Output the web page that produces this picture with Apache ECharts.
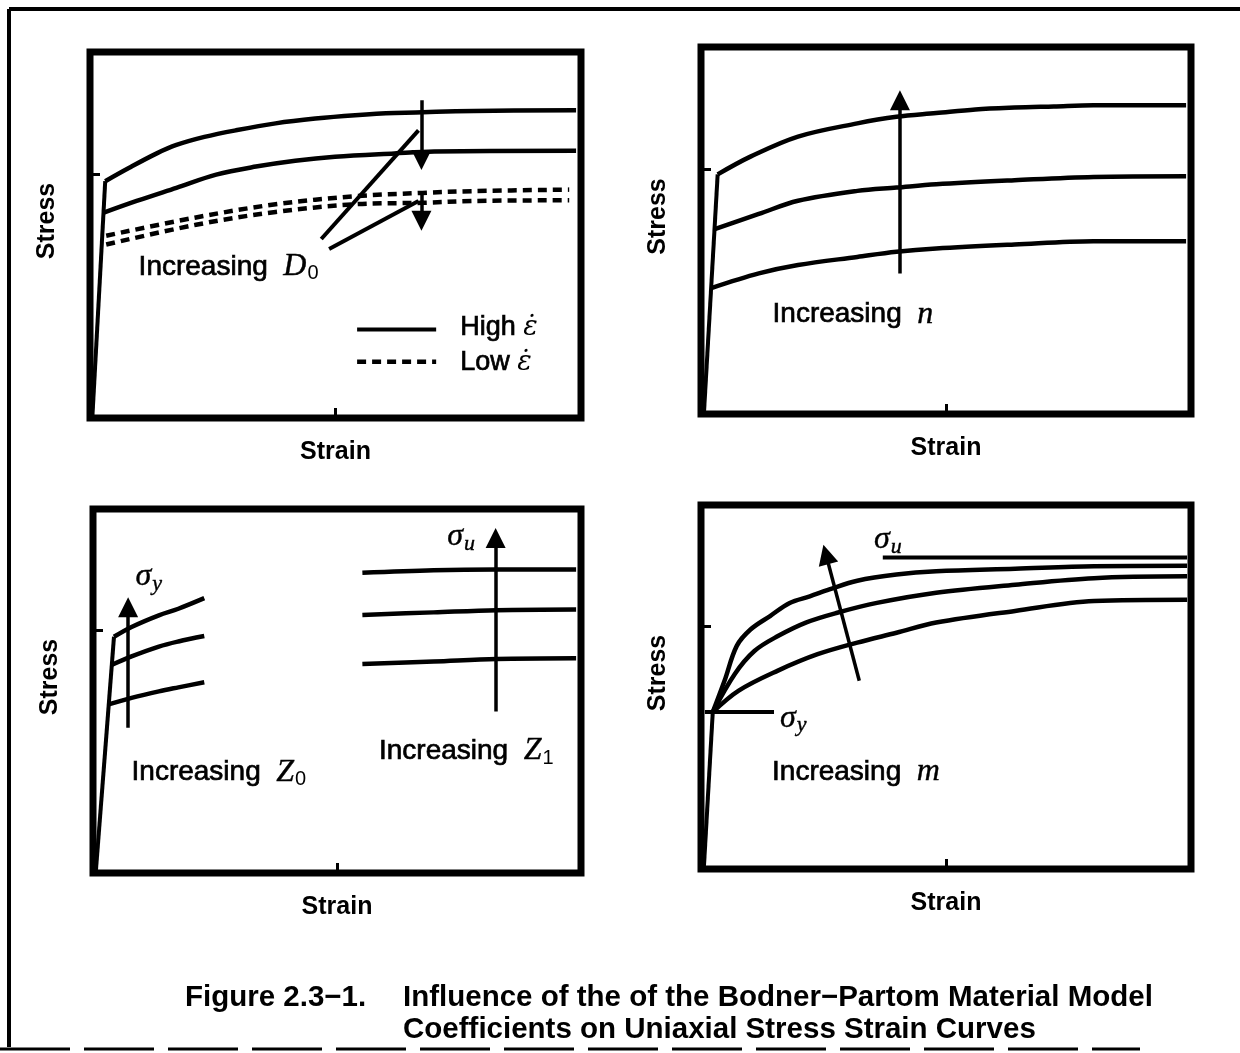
<!DOCTYPE html>
<html><head><meta charset="utf-8">
<script src="https://cdn.jsdelivr.net/npm/echarts@6/dist/echarts.min.js"></script>
<style>html,body{margin:0;padding:0;background:#fff}#c{width:1240px;height:1053px}</style>
</head><body><div id="c"></div>
<script>
// ---------- Panel 1: Increasing D0 (high / low strain rate) ----------
const p1Elastic   = [[0.5,0.7],[3.1,64.7]];
const p1HighUpper = [[3.1,64.7],[7.9,68.3],[13.6,72.3],[17.6,74.6],[23.3,76.8],[29.7,78.6],[37.8,80.5],[45.9,81.8],[54.0,82.7],[62.0,83.3],[78.2,83.9],[99,84.1]];
const p1HighLower = [[2.8,56.1],[9.5,59.3],[17.6,62.9],[25.7,66.5],[33.8,68.7],[41.8,70.3],[49.9,71.4],[62.0,72.3],[70.1,72.8],[99,73.0]];
const p1LowUpper  = [[3.3,49.8],[21.6,54.8],[37.8,58.4],[54.0,60.6],[67.7,61.5],[78.2,62.0],[97.6,62.4]];
const p1LowLower  = [[3.3,47.4],[21.6,52.8],[37.8,56.3],[54.0,58.4],[67.7,58.8],[78.2,59.3],[97.6,59.5]];
const p1ArrowHigh = [[67.5,86.8],[67.5,70.5]];
const p1ArrowLow  = [[67.5,61.5],[67.5,53.9]];
const p1Pointer1  = [[47.1,48.9],[66.9,78.6]];
const p1Pointer2  = [[48.7,46.2],[66.9,59.3]];
const p1KeySolid  = [[54.4,24.2],[70.5,24.2]];
const p1KeyDashed = [[54.4,15.4],[70.5,15.4]];
const p1Notes = [[9.9,41.3,'{t|Increasing  }{m|D}{s|0}'],[75.4,24.6,'{l|High }{e|ε̇}'],[75.4,15.1,'{l|Low }{e|ε̇}']];

// ---------- Panel 2: Increasing n ----------
const p2Elastic = [[0.6,0.2],[3.4,65.3]];
const p2Upper   = [[3.4,65.3],[10.2,70.2],[19.8,75.6],[31.9,79.2],[39.9,81.0],[48.0,82.0],[56.0,83.0],[64.0,83.5],[72.0,83.8],[80.1,84.1],[99,84.1]];
const p2Middle  = [[2.8,50.4],[11.8,54.5],[19.8,58.1],[31.9,60.8],[39.9,61.7],[48.0,62.6],[64.0,63.7],[80.1,64.6],[99,64.8]];
const p2Lower   = [[2.1,34.3],[11.8,38.3],[19.8,40.6],[31.9,42.8],[39.9,44.2],[48.0,45.1],[64.0,46.2],[80.1,47.1],[99,47.1]];
const p2Arrow   = [[40.6,38.3],[40.6,85.5]];
const p2Notes   = [[14.6,27.1,'{t|Increasing  }{m|n}']];

// ---------- Panel 3: Increasing Z0 / Z1 ----------
const p3Elastic = [[0.6,0.7],[4.3,64.9]];
const p3Z0High  = [[4.3,64.9],[7.9,67.6],[13.5,70.8],[17.5,72.6],[22.8,75.5]];
const p3Z0Mid   = [[3.9,57.2],[7.9,59.5],[13.5,62.2],[17.5,63.6],[22.8,65.1]];
const p3Z0Low   = [[3.2,46.3],[7.9,48.1],[13.5,49.9],[17.5,51.0],[22.8,52.4]];
const p3Z1High  = [[55.2,82.5],[69.8,83.2],[82.7,83.4],[99,83.4]];
const p3Z1Mid   = [[55.2,70.9],[69.8,71.6],[82.7,72.2],[99,72.4]];
const p3Z1Low   = [[55.2,57.4],[69.8,58.1],[82.7,58.8],[99,59.0]];
const p3ArrowY  = [[7.2,39.9],[7.2,73.0]];
const p3ArrowU  = [[82.5,44.4],[82.5,92.0]];
const p3Notes   = [[8.7,81.3,'{g|σ}{si|y}'],[72.6,92.3,'{g|σ}{si|u}'],[7.9,27.6,'{t|Increasing  }{m|Z}{s|0}'],[58.6,33.5,'{t|Increasing  }{m|Z}{s|1}']];

// ---------- Panel 4: Increasing m ----------
const p4Elastic = [[0.6,0.7],[2.4,43.1]];
const p4SigmaY  = [[0.8,43.1],[14.9,43.1]];
const p4Fast    = [[2.4,43.1],[4.8,51.7],[7.3,61.3],[10.1,65.8],[14.1,69.5],[18.1,73.1],[22.2,74.9],[26.2,76.8],[31.9,79.2],[39.9,80.9],[48.0,81.8],[64.1,82.5],[80.2,83.2],[99.2,83.3]];
const p4Mid     = [[2.4,43.1],[6.9,53.6],[10.9,59.9],[15.7,64.0],[21.4,67.7],[27.8,70.4],[35.9,73.1],[48.0,75.9],[64.1,78.1],[80.2,79.9],[99.2,80.4]];
const p4Slow    = [[2.4,43.1],[7.7,49.0],[15.7,54.5],[23.8,59.0],[31.9,62.2],[39.9,64.9],[48.0,67.7],[64.1,70.9],[80.2,73.6],[99.2,74.0]];
const p4SigmaU  = [[37.1,85.6],[99.2,85.6]];
const p4Arrow   = [[32.3,51.7],[25.5,86.4]];
const p4Notes   = [[35.3,90.4,'{g|σ}{si|u}'],[16.1,41.3,'{g|σ}{si|y}'],[14.5,26.7,'{t|Increasing  }{m|m}']];

// axis ticks
const xTickValues = [50];
const yTickValues = [66.7];
const xName = 'Strain', yName = 'Stress';

const SANS = 'Liberation Sans', SERIF = 'Liberation Serif';
const grids = [
  {left:90, top:52, width:491, height:366},
  {left:701, top:47, width:490, height:367},
  {left:93, top:509, width:488, height:364},
  {left:701, top:505, width:490, height:364}
];
const rich = {
  t:{fontFamily:SANS, fontSize:28, color:'#000', textBorderColor:'#000', textBorderWidth:0.7},
  l:{fontFamily:SANS, fontSize:27, color:'#000', textBorderColor:'#000', textBorderWidth:0.7},
  e:{fontFamily:'DejaVu Serif', fontStyle:'italic', fontSize:27, color:'#000'},
  m:{fontFamily:SERIF, fontStyle:'italic', fontSize:32, color:'#000', textBorderColor:'#000', textBorderWidth:0.4},
  g:{fontFamily:SERIF, fontStyle:'italic', fontSize:32, color:'#000', textBorderColor:'#000', textBorderWidth:0.4},
  s:{fontFamily:SANS, fontSize:20, color:'#000', padding:[14,0,0,1], lineHeight:21},
  si:{fontFamily:SERIF, fontStyle:'italic', fontSize:22, color:'#000', padding:[14,0,0,1], lineHeight:21, textBorderColor:'#000', textBorderWidth:0.4}
};

const series = [];
function curve(g, data, dashed){
  series.push({type:'line', xAxisIndex:g, yAxisIndex:g, data:data, showSymbol:false, symbol:'none', smooth:0.35,
    lineStyle:{color:'#000', width:4.5, type: dashed ? [9,6] : 'solid', cap:'butt', join:'round'}, silent:true, z:3});
}
function straight(g, data, dashed){
  series.push({type:'line', xAxisIndex:g, yAxisIndex:g, data:data, showSymbol:false, symbol:'none',
    lineStyle:{color:'#000', width:dashed?4.5:4, type: dashed ? [9,6] : 'solid', cap:'butt'}, silent:true, z:3});
}
function arrow(g, data){
  series.push({type:'lines', coordinateSystem:'cartesian2d', xAxisIndex:g, yAxisIndex:g,
    symbol:['none','triangle'], symbolSize:[10,20],
    lineStyle:{color:'#000', width:3.5, opacity:1, curveness:0}, data:[{coords:data}], silent:true, z:4});
}
function notes(g, list){
  series.push({type:'scatter', xAxisIndex:g, yAxisIndex:g, symbolSize:0, silent:true, z:5,
    itemStyle:{opacity:1, color:'#000'},
    data:list.map(n => ({value:[n[0],n[1]], name:n[2]})),
    label:{show:true, position:'right', distance:0, color:'#000', opacity:1, formatter:p => p.name, rich:rich}});
}

// panel 1
straight(0,p1Elastic); curve(0,p1HighUpper); curve(0,p1HighLower); curve(0,p1LowUpper,true); curve(0,p1LowLower,true);
arrow(0,p1ArrowHigh); arrow(0,p1ArrowLow); straight(0,p1Pointer1); straight(0,p1Pointer2);
straight(0,p1KeySolid); straight(0,p1KeyDashed,true); notes(0,p1Notes);
// panel 2
straight(1,p2Elastic); curve(1,p2Upper); curve(1,p2Middle); curve(1,p2Lower); arrow(1,p2Arrow); notes(1,p2Notes);
// panel 3
straight(2,p3Elastic); curve(2,p3Z0High); curve(2,p3Z0Mid); curve(2,p3Z0Low);
curve(2,p3Z1High); curve(2,p3Z1Mid); curve(2,p3Z1Low); arrow(2,p3ArrowY); arrow(2,p3ArrowU); notes(2,p3Notes);
// panel 4
straight(3,p4Elastic); straight(3,p4SigmaY); curve(3,p4Fast); curve(3,p4Mid); curve(3,p4Slow); straight(3,p4SigmaU);
arrow(3,p4Arrow); notes(3,p4Notes);

const nameStyle = {fontFamily:SANS, fontSize:25, fontWeight:'bold', color:'#000'};
const capStyle = {fontFamily:SANS, fontSize:29.5, fontWeight:'bold', fill:'#000', verticalAlign:'middle'};
const option = {
  animation:false,
  backgroundColor:'#fff',
  grid: grids.map(g => Object.assign({show:true, borderColor:'#000', borderWidth:7, backgroundColor:'transparent'}, g)),
  xAxis: grids.map((g,i) => ({gridIndex:i, type:'value', min:0, max:100, name:xName, nameLocation:'middle', nameGap:22,
    nameTextStyle:nameStyle, axisLine:{show:false}, splitLine:{show:false}, axisLabel:{show:false},
    axisTick:{show:true, inside:true, length:10, customValues:xTickValues, lineStyle:{color:'#000', width:3}}})),
  yAxis: grids.map((g,i) => ({gridIndex:i, type:'value', min:0, max:100, name:yName, nameLocation:'middle', nameGap:30, nameRotate:90,
    nameTextStyle:Object.assign({padding:[0,0,0,28]}, nameStyle), axisLine:{show:false}, splitLine:{show:false}, axisLabel:{show:false},
    axisTick:{show:true, inside:true, length:10, customValues:yTickValues, lineStyle:{color:'#000', width:3}}})),
  graphic:[
    {type:'line', shape:{x1:9, y1:9, x2:1240, y2:9}, style:{stroke:'#000', lineWidth:4}},
    {type:'line', shape:{x1:9, y1:9, x2:9, y2:1047}, style:{stroke:'#000', lineWidth:4}},
    {type:'line', shape:{x1:0, y1:1049, x2:1140, y2:1049}, style:{stroke:'#000', lineWidth:3, lineDash:[70,14]}},
    {type:'text', x:185, y:998, style:Object.assign({text:'Figure 2.3−1.'}, capStyle)},
    {type:'text', x:403, y:998, style:Object.assign({text:'Influence of the of the Bodner−Partom Material Model'}, capStyle)},
    {type:'text', x:403, y:1030, style:Object.assign({text:'Coefficients on Uniaxial Stress Strain Curves'}, capStyle)}
  ],
  series: series
};
const chart = echarts.init(document.getElementById('c'), null, {renderer:'canvas'});
chart.setOption(option);
</script>
</body></html>
